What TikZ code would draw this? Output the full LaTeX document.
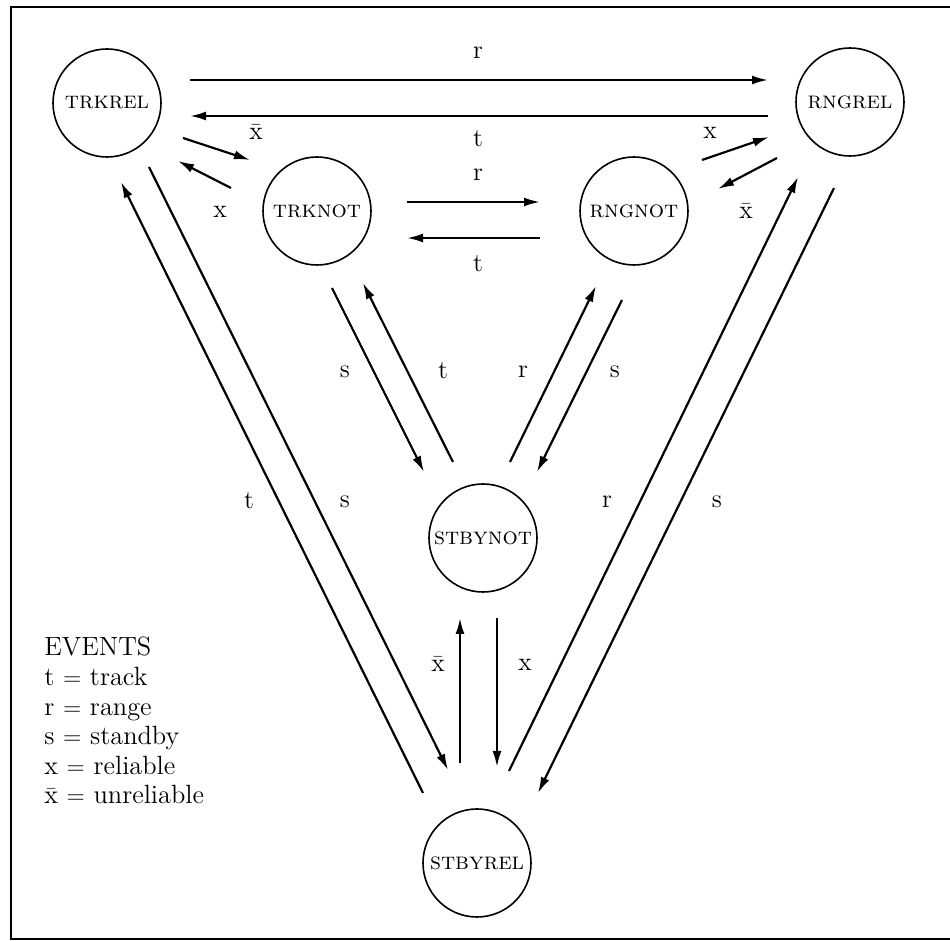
\documentclass[tikz,border=0pt]{standalone}
\usetikzlibrary{arrows.meta,calc}
\begin{document}
\begin{tikzpicture}[x=0.5pt,y=-0.5pt,
  state/.style={circle,draw,line width=0.8pt,minimum size=54pt,inner sep=0pt,
    font=\fontsize{12}{14}\selectfont\scshape},
  tr/.style={line width=1.1pt,-{Latex[length=8pt,width=4.5pt]}},
  lbl/.style={font=\fontsize{13}{15}\selectfont,inner sep=0pt}]
\useasboundingbox (0,0) rectangle (950,941);
% outer frame
\draw[line width=1pt] (11,7) rectangle (965,939);

% states
\node[state] (trkrel)  at (107,103) {trkrel};
\node[state] (trknot)  at (317,211) {trknot};
\node[state] (rngnot)  at (634,211) {rngnot};
\node[state] (rngrel)  at (850,102) {rngrel};
\node[state] (stbynot) at (483,538) {stbynot};
\node[state] (stbyrel) at (477,863) {stbyrel};

% transitions along the top
\draw[tr] ($(trkrel)+(83,-23)$) -- ($(rngrel)+(-82,-22)$);
\draw[tr] ($(rngrel)+(-82,14)$) -- ($(trkrel)+(83,13)$);
\draw[tr] ($(trkrel)+(76,35)$) -- ($(trknot)+(-67,-51)$);
\draw[tr] ($(trknot)+(-86,-23)$) -- ($(trkrel)+(71,58)$);
\draw[tr] ($(trknot)+(90,-9)$) -- ($(rngnot)+(-94,-9)$);
\draw[tr] ($(rngnot)+(-94,27)$) -- ($(trknot)+(90,27)$);
\draw[tr] ($(rngnot)+(68,-51)$) -- ($(rngrel)+(-81,35)$);
\draw[tr] ($(rngrel)+(-73,56)$) -- ($(rngnot)+(84,-22)$);

% inner V
\draw[tr] ($(trknot)+(15,77)$) -- ($(stbynot)+(-59,-66)$);
\draw[tr] ($(stbynot)+(-30,-76)$) -- ($(trknot)+(46,72)$);
\draw[tr] ($(stbynot)+(27,-76)$) -- ($(rngnot)+(-38,75)$);
\draw[tr] ($(rngnot)+(-12,89)$) -- ($(stbynot)+(54,-66)$);

% outer V
\draw[tr] ($(stbyrel)+(-54,-70)$) -- ($(trkrel)+(14,79)$);
\draw[tr] ($(trkrel)+(42,64)$) -- ($(stbyrel)+(-29,-93)$);
\draw[tr] ($(stbyrel)+(32,-92)$) -- ($(rngrel)+(-52,75)$);
\draw[tr] ($(rngrel)+(-16,86)$) -- ($(stbyrel)+(61,-70)$);

% standby pair
\draw[tr] ($(stbyrel)+(-17,-100)$) -- ($(stbynot)+(-23,80)$);
\draw[tr] ($(stbynot)+(14,80)$) -- ($(stbyrel)+(20,-96)$);

% event labels
\node[lbl] (l1)  at (478,53)  {r};
\node[lbl] (l2)  at (478,139) {t};
\node[lbl] (l3)  at (256,132) {$\bar{\textrm{x}}$};
\node[lbl] (l4)  at (220,212) {x};
\node[lbl] (l5)  at (478,175) {r};
\node[lbl] (l6)  at (478,264) {t};
\node[lbl] (l7)  at (710,133) {x};
\node[lbl] (l8)  at (746,211) {$\bar{\textrm{x}}$};
\node[lbl] (l9)  at (345,372) {s};
\node[lbl] (l10) at (443,371) {t};
\node[lbl] (l11) at (523,372) {r};
\node[lbl] (l12) at (615,372) {s};
\node[lbl] (l13) at (249,501) {t};
\node[lbl] (l14) at (345,502) {s};
\node[lbl] (l15) at (607,502) {r};
\node[lbl] (l16) at (717,502) {s};
\node[lbl] (l17) at (438,664) {$\bar{\textrm{x}}$};
\node[lbl] (l18) at (525,665) {x};

% legend (base anchor sits on the last line)
\node[anchor=base west,align=left,inner sep=0pt,
  font=\fontsize{13.2}{14.8}\selectfont] (legend) at (44,804)
  {EVENTS\\ t $=$ track\\ r $=$ range\\ s $=$ standby\\ x $=$ reliable\\
   $\bar{\textrm{x}}$ $=$ unreliable};
\end{tikzpicture}
\end{document}
